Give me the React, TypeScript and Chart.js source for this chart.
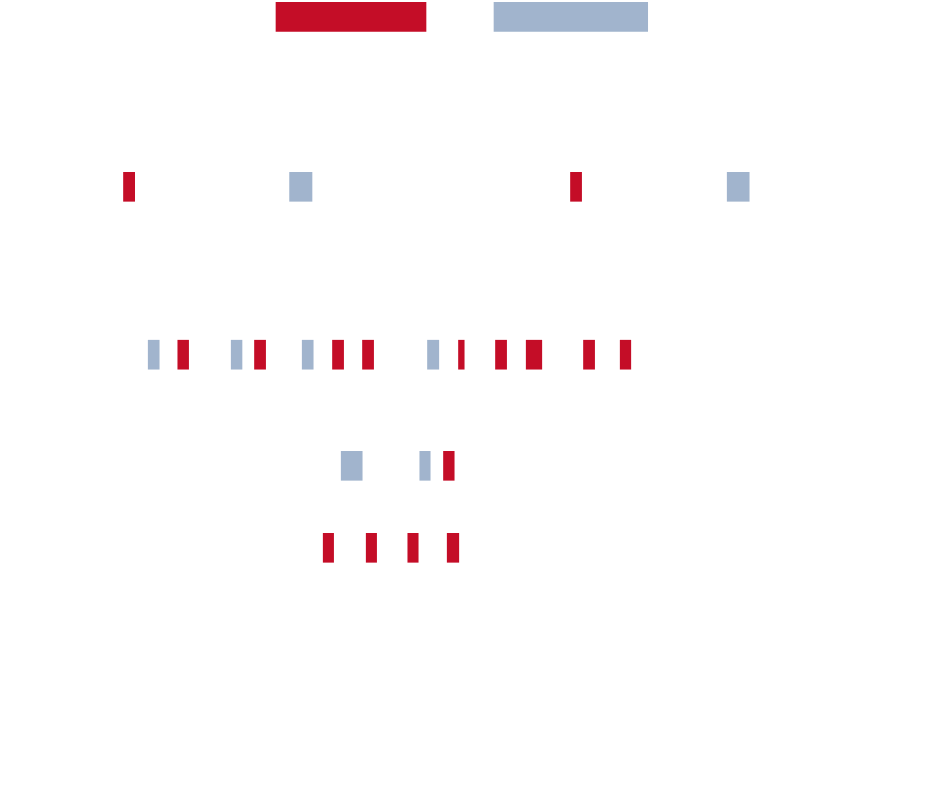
import { useEffect, useRef } from "react";
import { Chart, registerables } from "chart.js";

Chart.register(...registerables);

// Row levels (vertical value of each row of marks)
const rowLevels = [16.8, 186.8, 354.7, 465.8, 547.8];

// Red series: row index, start, end
const redRows = [0, 1, 1, 2, 2, 2, 2, 2, 2, 2, 2, 2, 3, 4, 4, 4, 4];
const redStarts = [276, 123.5, 570.5, 177.8, 254.5, 332.5, 362.5, 458.5, 495.5, 526.2, 583.5, 620.2, 443.5, 323.2, 366.2, 407.8, 447.2];
const redEnds = [426, 134.7, 581.6, 188.6, 265.6, 343.6, 373.6, 464.2, 506.6, 541.8, 594.6, 630.8, 454.2, 333.6, 376.6, 418.2, 458.8];

// Blue series: row index, start, end
const blueRows = [0, 1, 1, 2, 2, 2, 2, 3, 3];
const blueStarts = [494, 289.6, 727.2, 148.2, 231.2, 302.2, 427.5, 341.2, 419.8];
const blueEnds = [647.7, 312, 749.2, 159.2, 242, 313.2, 438.8, 362.2, 430.2];

const RED = "rgb(196,13,39)";
const BLUE = "rgb(161,180,205)";

function spans(rows: number[], starts: number[], ends: number[]) {
  return rows.map((r, i) => ({ x: [starts[i], ends[i]], y: rowLevels[r] }));
}

export default function App() {
  const ref = useRef<HTMLCanvasElement | null>(null);
  useEffect(() => {
    if (!ref.current) return;
    const chart = new Chart(ref.current, {
      type: "bar",
      data: {
        datasets: [
          {
            label: "Red",
            data: spans(redRows, redStarts, redEnds) as any,
            backgroundColor: RED,
            borderWidth: 0,
            grouped: false,
            barThickness: 29,
          } as any,
          {
            label: "Blue",
            data: spans(blueRows, blueStarts, blueEnds) as any,
            backgroundColor: BLUE,
            borderWidth: 0,
            grouped: false,
            barThickness: 29,
          } as any,
        ],
      },
      options: {
        animation: false,
        responsive: false,
        indexAxis: "y",
        layout: { padding: 0 },
        plugins: { legend: { display: false }, tooltip: { enabled: false } },
        scales: {
          x: { type: "linear", min: 0, max: 939, display: false, offset: false },
          y: { type: "linear", min: 0, max: 788, reverse: true, display: false, offset: false },
        },
      },
    });
    return () => chart.destroy();
  }, []);
  return (
    <div style={{ position: "fixed", left: 0, top: 0, width: 939, height: 788, background: "#fff" }}>
      <canvas ref={ref} width={939} height={788} style={{ display: "block" }} />
    </div>
  );
}
